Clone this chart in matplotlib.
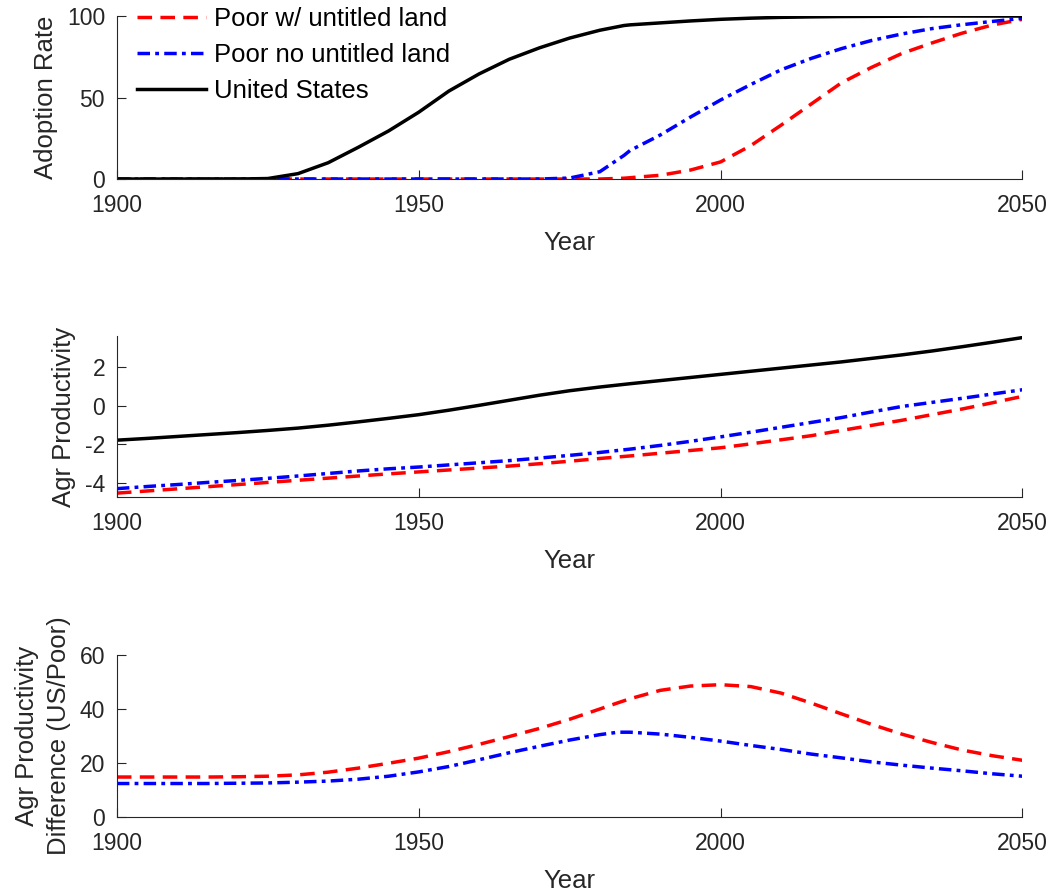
import matplotlib

matplotlib.use("Agg")
import matplotlib.pyplot as plt

plt.rcParams["font.family"] = ["Liberation Sans", "DejaVu Sans"]
plt.rcParams["axes.unicode_minus"] = False

# --- data ------------------------------------------------------------------
years_adopt = [1900, 1905, 1910, 1915, 1920, 1925, 1930, 1935, 1940, 1945,
               1950, 1955, 1960, 1965, 1970, 1975, 1980, 1984, 1985, 1990,
               1995, 2000, 2005, 2010, 2015, 2020, 2025, 2030, 2035, 2040,
               2045, 2050]
us_adopt = [0, 0, 0, 0, 0, 0.3, 3.3, 10, 19.5, 29.5, 41, 54, 64.5, 73.5,
            80.5, 86.5, 91.3, 94.2, 94.6, 95.8, 97, 98, 98.7, 99.2, 99.5,
            99.7, 99.8, 99.9, 100, 100, 100, 100]
poor_no_untitled_adopt = [0, 0, 0, 0, 0, 0, 0, 0, 0, 0, 0, 0, 0, 0, 0, 0.6,
                          4.5, 14.5, 17.5, 27, 38, 48.5, 58, 67, 74, 80, 85,
                          89, 92.3, 94.7, 96.7, 98.6]
poor_untitled_adopt = [0, 0, 0, 0, 0, 0, 0, 0, 0, 0, 0, 0, 0, 0, 0, 0, 0,
                       0.5, 0.8, 2.3, 5.5, 10.5, 20.5, 33, 46, 59, 68.5, 77,
                       83.5, 89.5, 94.5, 98]

years = [1900, 1905, 1910, 1915, 1920, 1925, 1930, 1935, 1940, 1945, 1950,
         1955, 1960, 1965, 1970, 1975, 1980, 1985, 1990, 1995, 2000, 2005,
         2010, 2015, 2020, 2025, 2030, 2035, 2040, 2045, 2050]
us_prod = [-1.78, -1.69, -1.59, -1.49, -1.39, -1.28, -1.16, -1.01, -0.84,
           -0.66, -0.47, -0.24, 0.01, 0.27, 0.53, 0.76, 0.95, 1.12, 1.28,
           1.44, 1.60, 1.76, 1.92, 2.08, 2.24, 2.42, 2.60, 2.80, 3.02, 3.25,
           3.49]
poor_no_untitled_prod = [-4.27, -4.16, -4.06, -3.95, -3.85, -3.74, -3.62,
                         -3.49, -3.36, -3.25, -3.16, -3.05, -2.94, -2.83,
                         -2.70, -2.56, -2.41, -2.24, -2.05, -1.84, -1.61,
                         -1.37, -1.12, -0.87, -0.62, -0.33, -0.05, 0.16,
                         0.37, 0.59, 0.81]
poor_untitled_prod = [-4.50, -4.39, -4.28, -4.17, -4.06, -3.95, -3.84, -3.73,
                      -3.62, -3.51, -3.41, -3.31, -3.21, -3.11, -2.99, -2.86,
                      -2.72, -2.59, -2.45, -2.31, -2.17, -1.97, -1.76, -1.55,
                      -1.28, -1.02, -0.76, -0.47, -0.18, 0.14, 0.47]

years_diff = [1900, 1905, 1910, 1915, 1920, 1925, 1930, 1935, 1940, 1945,
              1950, 1955, 1960, 1965, 1970, 1975, 1980, 1983, 1985, 1990,
              1995, 2000, 2005, 2010, 2015, 2020, 2025, 2030, 2035, 2040,
              2045, 2050]
diff_untitled = [14.8, 14.8, 14.8, 14.8, 14.9, 15.1, 15.6, 16.6, 18.1, 19.9,
                 21.8, 24.2, 26.9, 29.8, 32.8, 36.2, 40.0, 42.3, 43.8, 46.9,
                 48.5, 49.0, 48.3, 45.9, 42.2, 38.2, 34.3, 30.7, 27.6, 24.8,
                 22.7, 21.0]
diff_no_untitled = [12.4, 12.4, 12.4, 12.4, 12.5, 12.6, 12.9, 13.3, 14.0,
                    15.1, 16.7, 18.7, 21.2, 23.8, 26.2, 28.5, 30.5, 31.4,
                    31.4, 30.7, 29.5, 28.1, 26.5, 25.0, 23.3, 21.9, 20.4,
                    19.2, 18.1, 17.1, 16.0, 15.1]

labels = ["Poor w/ untitled land", "Poor no untitled land", "United States"]
xticks = [1900, 1950, 2000, 2050]

RED = "#ff0000"
BLUE = "#0000ff"
GREY = "#262626"
TICK_FS = 16.5
LABEL_FS = 18.5
LW = 2.5
RED_DASH = (4.2, 2.4)
BLUE_DASHDOT = (3.6, 1.5, 1.1, 1.5)


def style_axes(ax):
    ax.spines["top"].set_visible(False)
    ax.spines["right"].set_visible(False)
    for side in ("left", "bottom"):
        ax.spines[side].set_color(GREY)
        ax.spines[side].set_linewidth(0.8)
    ax.tick_params(direction="in", length=6.5, width=0.8, colors=GREY,
                   labelsize=TICK_FS)
    ax.tick_params(axis="x", pad=11)
    ax.tick_params(axis="y", pad=8.5)
    ax.set_xlim(1900, 2050)
    ax.set_xticks(xticks)
    ax.set_xlabel("Year", fontsize=LABEL_FS, color=GREY, labelpad=10)


def plot_pair(ax, x, red, blue):
    ax.plot(x, red, "--", color=RED, lw=LW, dashes=RED_DASH, label=labels[0])
    ax.plot(x, blue, "-.", color=BLUE, lw=LW, dashes=BLUE_DASHDOT,
            label=labels[1])


fig = plt.figure(figsize=(10.53, 8.92), dpi=100)
ax1 = fig.add_axes([0.111, 0.7993, 0.860, 0.1827])
ax2 = fig.add_axes([0.111, 0.4428, 0.860, 0.1805])
ax3 = fig.add_axes([0.111, 0.0841, 0.860, 0.1816])

# top: adoption rate
plot_pair(ax1, years_adopt, poor_untitled_adopt, poor_no_untitled_adopt)
ax1.plot(years_adopt, us_adopt, "-", color="black", lw=LW, label=labels[2])
ax1.set_ylim(0, 100)
ax1.set_yticks([0, 50, 100])
ax1.set_ylabel("Adoption Rate", fontsize=LABEL_FS, color=GREY, labelpad=6)
style_axes(ax1)
ax1.legend(loc="upper left", bbox_to_anchor=(0.022, 1.058), frameon=False,
           fontsize=LABEL_FS, handlelength=2.7, labelspacing=0.48,
           handletextpad=0.3, borderaxespad=0, borderpad=0)

# middle: agricultural productivity
plot_pair(ax2, years, poor_untitled_prod, poor_no_untitled_prod)
ax2.plot(years, us_prod, "-", color="black", lw=LW)
ax2.set_ylim(-4.7, 3.57)
ax2.set_yticks([-4, -2, 0, 2])
ax2.set_ylabel("Agr Productivity", fontsize=LABEL_FS, color=GREY, labelpad=6)
style_axes(ax2)

# bottom: productivity difference
plot_pair(ax3, years_diff, diff_untitled, diff_no_untitled)
ax3.set_ylim(0, 60)
ax3.set_yticks([0, 20, 40, 60])
ax3.set_ylabel("Agr Productivity\nDifference (US/Poor)", fontsize=LABEL_FS,
               color=GREY, labelpad=6, linespacing=1.45)
style_axes(ax3)

fig.savefig("out.png", dpi=100)
